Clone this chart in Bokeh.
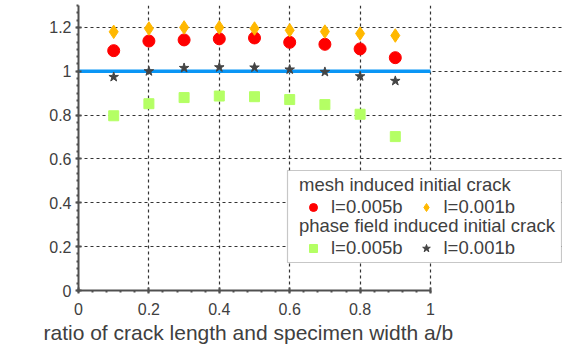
import math
from bokeh.plotting import figure
from bokeh.models import (Range1d, FixedTicker, CustomJSTickFormatter, Legend, LegendItem,
                          Label, BoxAnnotation, Title)
from bokeh.embed import file_html
from bokeh.resources import INLINE

# ---- data ----
ratio = [0.1, 0.2, 0.3, 0.4, 0.5, 0.6, 0.7, 0.8, 0.9]
mesh_l005 = [1.094, 1.138, 1.143, 1.148, 1.152, 1.132, 1.123, 1.102, 1.062]
mesh_l001 = [1.180, 1.195, 1.200, 1.200, 1.195, 1.187, 1.181, 1.172, 1.163]
pf_l005 = [0.797, 0.852, 0.880, 0.887, 0.884, 0.871, 0.848, 0.804, 0.702]
pf_l001 = [0.974, 1.000, 1.015, 1.018, 1.017, 1.008, 0.997, 0.977, 0.956]
ref_x = [0.0, 1.0]
ref_y = [1.0, 1.0]

x_ticks = [0, 0.2, 0.4, 0.6, 0.8, 1]
y_ticks = [0, 0.2, 0.4, 0.6, 0.8, 1, 1.2]
x_minor = [round(i * 0.04, 4) for i in range(26)]
y_minor = [round(i * 0.2 / 6, 4) for i in range(40)]

FONT = "Liberation Sans"
TXT = "#404040"
AX = "#505050"

p = figure(width=562, height=350, x_range=Range1d(0, 1.375), y_range=Range1d(0, 1.3),
           min_border_left=78, min_border_right=0, min_border_top=5, min_border_bottom=60,
           output_backend="svg", toolbar_location=None)
p.outline_line_color = None
p.background_fill_color = "white"
p.border_fill_color = "white"

fmt = CustomJSTickFormatter(code="return tick.toString()")
for ax, ticks, minor in ((p.xaxis[0], x_ticks, x_minor), (p.yaxis[0], y_ticks, y_minor)):
    ax.ticker = FixedTicker(ticks=ticks, minor_ticks=minor)
    ax.formatter = fmt
    ax.axis_line_color = AX
    ax.axis_line_width = 2
    ax.major_tick_line_color = AX
    ax.major_tick_line_width = 2
    ax.minor_tick_line_color = AX
    ax.minor_tick_line_width = 2
    ax.major_tick_in = 3
    ax.major_tick_out = 3
    ax.minor_tick_in = 0
    ax.minor_tick_out = 2
    ax.major_label_text_font = FONT
    ax.major_label_text_font_size = "16px"
    ax.major_label_text_color = TXT
p.xaxis.bounds = (0, 1)
p.xaxis.major_label_standoff = 9
p.yaxis.major_label_standoff = 4

for g in (p.xgrid[0], p.ygrid[0]):
    g.grid_line_color = "#333333"
    g.grid_line_dash = "3 3"
    g.grid_line_width = 1.2
p.ygrid.bounds = (0, 1)

p.line(ref_x, ref_y, line_color="#0A96F5", line_width=3.5)

r_sq = p.scatter(ratio, pf_l005, marker="square", size=10, fill_color="#B4FF64", line_color="#B4FF64")
r_ci = p.scatter(ratio, mesh_l005, marker="circle", size=12, fill_color="#FF0000", line_color="#FF0000")
r_di = p.scatter(ratio, mesh_l001, marker="diamond", size=13.5, fill_color="#FFB800", line_color="#FFB800")
r_st = p.scatter(ratio, pf_l001, marker="star", size=10, fill_color="#444444", line_color="#444444")

box = BoxAnnotation(left=287, right=561, top=170, bottom=262,
                    left_units="canvas", right_units="canvas", top_units="canvas", bottom_units="canvas",
                    fill_color="white", fill_alpha=1, line_color="#444444", line_width=1.2)
p.add_layout(box)

def make_legend(title, items, loc):
    lg = Legend(items=items, location=loc, orientation="horizontal", title=title,
                title_text_font=FONT, title_text_font_size="18.5px", title_text_font_style="normal",
                title_text_color=TXT, title_standoff=0,
                label_text_font=FONT, label_text_font_size="18.5px", label_text_color=TXT,
                glyph_width=28, glyph_height=20, label_height=20, label_standoff=4, spacing=9,
                padding=0, margin=0, border_line_alpha=0, background_fill_alpha=0)
    p.add_layout(lg)

make_legend("mesh induced initial crack",
            [LegendItem(label="l=0.005b", renderers=[r_ci]), LegendItem(label="l=0.001b", renderers=[r_di])],
            (221, 72))
make_legend("phase field induced initial crack",
            [LegendItem(label="l=0.005b", renderers=[r_sq]), LegendItem(label="l=0.001b", renderers=[r_st])],
            (221, 31))

# x axis title, starting a little left of the axis origin as in the reference
xt = Title(text="ratio of crack length and specimen width a/b", align="left", offset=-35,
           text_font=FONT, text_font_size="21px", text_font_style="normal", text_color=TXT,
           standoff=2)
p.add_layout(xt, "below")

# y axis title G/G_c
p.add_layout(Label(x=-50, y=111, x_units="screen", y_units="screen", text="G/G", angle=math.pi / 2,
                   text_align="left", text_baseline="alphabetic", text_font=FONT,
                   text_font_size="21px", text_color=TXT))
p.add_layout(Label(x=-46, y=153, x_units="screen", y_units="screen", text="c", angle=math.pi / 2,
                   text_align="left", text_baseline="alphabetic", text_font=FONT,
                   text_font_size="12px", text_color=TXT))

open("out.html", "w").write(file_html(p, INLINE))
